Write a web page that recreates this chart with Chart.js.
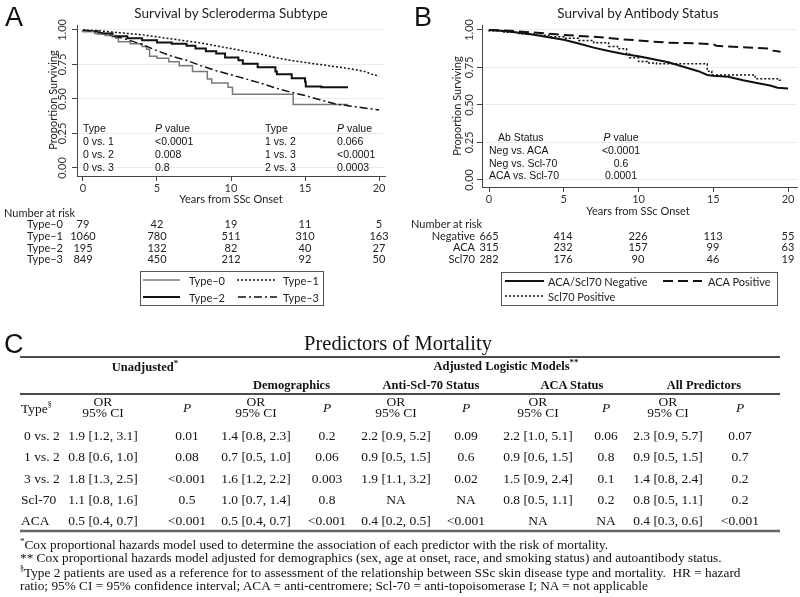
<!DOCTYPE html>
<html>
<head>
<meta charset="utf-8">
<script src="https://cdn.jsdelivr.net/npm/chart.js@4.4.1/dist/chart.umd.min.js"></script>
<style>
  body { margin: 0; background: #fff; }
  #page { position: relative; width: 800px; height: 597px; overflow: hidden; background: #fff; color: #222; font-family: "Liberation Sans", Arial, sans-serif; }
  #page canvas { position: absolute; }
  .t { position: absolute; white-space: nowrap; line-height: 1; }
  .serif { font-family: "Liberation Serif", "Times New Roman", serif; color: #111; }
  .myr { font-family: Lato, "Liberation Sans", sans-serif; }
  svg { position: absolute; left: 0; top: 0; }
</style>
</head>
<body>
<div id="page">
  <canvas id="kmA" width="400" height="200" style="left:0;top:0"></canvas>
  <canvas id="kmB" width="400" height="215" style="left:400px;top:0"></canvas>
  <svg id="lines" width="800" height="597"></svg>
</div>
<script>
// ---- panel A: survival by subtype (years, proportion surviving)
const type0Time = [0, 0.8, 1.5, 2.2, 2.4, 3.2, 4.0, 4.3, 4.5, 5.0, 5.8, 6.5, 7.4, 8.4, 8.7, 9.8, 10.1, 14.2, 17.2, 17.9];
const type0Surv = [1, 0.99, 0.975, 0.96, 0.94, 0.915, 0.90, 0.88, 0.86, 0.81, 0.795, 0.77, 0.74, 0.70, 0.645, 0.615, 0.585, 0.535, 0.46, 0.46];
const type1Time = [0, 1, 2, 3, 4, 5, 6, 7, 8, 9, 10, 11, 12, 13, 14, 15, 16, 17, 18, 19, 19.5, 20];
const type1Surv = [1, 0.995, 0.985, 0.975, 0.965, 0.95, 0.935, 0.92, 0.905, 0.885, 0.865, 0.845, 0.825, 0.80, 0.78, 0.765, 0.75, 0.735, 0.72, 0.70, 0.68, 0.665];
const type2Time = [0, 1, 2, 3, 4, 5, 6, 7, 7.6, 8.3, 9.0, 9.6, 10.5, 10.8, 11.8, 13.0, 13.1, 14.1, 15.0, 15.05, 16.1, 17.9];
const type2Surv = [1, 0.99, 0.975, 0.955, 0.94, 0.925, 0.91, 0.90, 0.885, 0.865, 0.845, 0.83, 0.80, 0.78, 0.755, 0.73, 0.70, 0.68, 0.65, 0.625, 0.59, 0.585];
const type3Time = [0, 1, 2, 3, 4, 5, 6, 7, 8, 9, 10, 11, 12, 13, 14, 15, 16, 17, 18, 19, 20];
const type3Surv = [1, 0.985, 0.96, 0.93, 0.895, 0.85, 0.81, 0.78, 0.74, 0.705, 0.675, 0.645, 0.615, 0.58, 0.55, 0.525, 0.495, 0.465, 0.45, 0.435, 0.42];

// ---- panel B: survival by antibody status
const negTime = [0, 1, 2, 3, 4, 5, 6, 7, 8, 9, 10, 11, 12, 13, 14, 14.6, 15, 16, 17, 18, 18.8, 19.3, 20];
const negSurv = [1, 0.993, 0.982, 0.968, 0.952, 0.935, 0.91, 0.882, 0.86, 0.84, 0.825, 0.805, 0.785, 0.755, 0.725, 0.70, 0.695, 0.688, 0.665, 0.645, 0.63, 0.615, 0.61];
const acaTime = [0, 1, 2, 3, 4, 5, 6, 7, 8, 9, 10, 11, 12, 13, 14, 15, 15.2, 16, 17, 18, 18.8, 19, 19.5];
const acaSurv = [1, 0.997, 0.99, 0.983, 0.975, 0.967, 0.96, 0.955, 0.947, 0.937, 0.93, 0.922, 0.915, 0.913, 0.91, 0.905, 0.895, 0.89, 0.885, 0.88, 0.875, 0.862, 0.855];
const sclTime = [0, 1, 2, 3, 4, 5, 6, 7, 8, 8.6, 9.2, 9.4, 10, 10.6, 11.2, 14.6, 14.9, 17.8, 19.35, 19.6];
const sclSurv = [1, 0.995, 0.985, 0.975, 0.965, 0.955, 0.945, 0.93, 0.915, 0.89, 0.875, 0.84, 0.815, 0.79, 0.78, 0.775, 0.725, 0.70, 0.675, 0.665];

const xTicks = [0, 5, 10, 15, 20];
const yTicks = [0, 0.25, 0.5, 0.75, 1];

// number at risk
const riskA = [['Type\u20130', [79, 42, 19, 11, 5]], ['Type\u20131', [1060, 780, 511, 310, 163]],
               ['Type\u20132', [195, 132, 82, 40, 27]], ['Type\u20133', [849, 450, 212, 92, 50]]];
const riskB = [['Negative', [665, 414, 226, 113, 55]], ['ACA', [315, 232, 157, 99, 63]], ['Scl70', [282, 176, 90, 46, 19]]];

// p values inside the plots
const pvalA = [['0 vs. 1', '<0.0001', '1 vs. 2', '0.066'], ['0 vs. 2', '0.008', '1 vs. 3', '<0.0001'], ['0 vs. 3', '0.8', '2 vs. 3', '0.0003']];
const pvalB = [['Neg vs. ACA', '<0.0001'], ['Neg vs. Scl-70', '0.6'], ['ACA vs. Scl-70', '0.0001']];

// ---- panel C table
const rowLabels = ['0 vs. 2', '1 vs. 2', '3 vs. 2', 'Scl-70', 'ACA'];
const unadjOR = ['1.9 [1.2, 3.1]', '0.8 [0.6, 1.0]', '1.8 [1.3, 2.5]', '1.1 [0.8, 1.6]', '0.5 [0.4, 0.7]'];
const unadjP = ['0.01', '0.08', '<0.001', '0.5', '<0.001'];
const demoOR = ['1.4 [0.8, 2.3]', '0.7 [0.5, 1.0]', '1.6 [1.2, 2.2]', '1.0 [0.7, 1.4]', '0.5 [0.4, 0.7]'];
const demoP = ['0.2', '0.06', '0.003', '0.8', '<0.001'];
const sclOR = ['2.2 [0.9, 5.2]', '0.9 [0.5, 1.5]', '1.9 [1.1, 3.2]', 'NA', '0.4 [0.2, 0.5]'];
const sclP = ['0.09', '0.6', '0.02', 'NA', '<0.001'];
const acaOR = ['2.2 [1.0, 5.1]', '0.9 [0.6, 1.5]', '1.5 [0.9, 2.4]', '0.8 [0.5, 1.1]', 'NA'];
const acaP = ['0.06', '0.8', '0.1', '0.2', 'NA'];
const allOR = ['2.3 [0.9, 5.7]', '0.9 [0.5, 1.5]', '1.4 [0.8, 2.4]', '0.8 [0.5, 1.1]', '0.4 [0.3, 0.6]'];
const allP = ['0.07', '0.7', '0.2', '0.2', '<0.001'];

const page = document.getElementById('page');
const svg = document.getElementById('lines');

// place a text at x, centre y; align l/c/r
function put(html, x, y, align, style, cls) {
  const el = document.createElement('div');
  el.className = 't ' + (cls || '');
  el.innerHTML = html;
  const tx = align === 'c' ? '-50%' : align === 'r' ? '-100%' : '0';
  el.style.cssText = `left:${x}px;top:${y}px;transform:translate(${tx},-50%);` + (style || '');
  page.appendChild(el);
  return el;
}
function rule(x1, y1, x2, y2, color, w, dash) {
  const l = document.createElementNS('http://www.w3.org/2000/svg', 'line');
  l.setAttribute('x1', x1); l.setAttribute('y1', y1); l.setAttribute('x2', x2); l.setAttribute('y2', y2);
  l.setAttribute('stroke', color); l.setAttribute('stroke-width', w);
  if (dash) l.setAttribute('stroke-dasharray', dash);
  svg.appendChild(l);
}
function box(x, y, w, h) {
  const r = document.createElementNS('http://www.w3.org/2000/svg', 'rect');
  r.setAttribute('x', x); r.setAttribute('y', y); r.setAttribute('width', w); r.setAttribute('height', h);
  r.setAttribute('fill', 'none'); r.setAttribute('stroke', '#555'); r.setAttribute('stroke-width', 1);
  svg.appendChild(r);
}

// rotated y tick labels
const yLabels = {
  id: 'yLabels',
  afterDraw(chart, args, opts) {
    const s = chart.scales.y, c = chart.ctx;
    c.save();
    c.fillStyle = '#333';
    c.font = '11px Lato, "Liberation Sans", sans-serif';
    c.textAlign = 'center';
    c.textBaseline = 'middle';
    s.ticks.forEach(t => {
      c.save();
      c.translate(s.right - opts.dx, s.getPixelForValue(t.value));
      c.rotate(-Math.PI / 2);
      c.fillText(t.value.toFixed(2), 0, 0);
      c.restore();
    });
    c.restore();
  }
};

function line(t, s, color, width, dash, stepped) {
  return {
    data: t.map((v, i) => ({ x: v, y: s[i] })),
    borderColor: color, borderWidth: width, borderDash: dash, stepped: stepped,
    pointRadius: 0, fill: false, tension: 0
  };
}

function kmChart(id, datasets, g) {
  return new Chart(document.getElementById(id), {
    type: 'line',
    data: { datasets },
    options: {
      responsive: false,
      animation: false,
      events: [],
      layout: { padding: { left: 0, right: g.right, top: g.top, bottom: 0 } },
      plugins: { legend: { display: false }, tooltip: { enabled: false }, yLabels: { dx: g.dx } },
      scales: {
        x: {
          type: 'linear', min: g.xmin, max: g.xmax,
          afterBuildTicks: s => { s.ticks = xTicks.map(v => ({ value: v })); },
          afterFit: s => { s.height = g.xh; },
          grid: { drawOnChartArea: false, drawTicks: true, tickLength: 5, tickColor: '#444' },
          border: { color: '#444', width: 1 },
          ticks: { color: '#333', padding: 1, maxRotation: 0, font: { size: 11, family: 'Lato, "Liberation Sans", sans-serif' } }
        },
        y: {
          type: 'linear', min: g.ymin, max: g.ymax,
          afterBuildTicks: s => { s.ticks = yTicks.map(v => ({ value: v })); },
          afterFit: s => { s.width = g.yw; },
          grid: { color: '#ebebeb', lineWidth: 1, drawTicks: true, tickLength: 5, tickColor: '#444' },
          border: { color: '#444', width: 1 },
          ticks: { display: false }
        }
      }
    },
    plugins: [yLabels]
  });
}

kmChart('kmA', [
  line(type1Time, type1Surv, '#111', 1.5, [2, 2], false),
  line(type3Time, type3Surv, '#111', 1.5, [8, 3, 2, 3], false),
  line(type0Time, type0Surv, '#7a7a7a', 1.5, [], 'after'),
  line(type2Time, type2Surv, '#111', 2, [], 'after')
], { xmin: -0.4, xmax: 20.4, ymin: -0.058, ymax: 1.036, top: 25, right: 15, xh: 24, yw: 77, dx: 15 });

kmChart('kmB', [
  line(sclTime, sclSurv, '#111', 1.5, [2, 2], 'after'),
  line(acaTime, acaSurv, '#111', 2, [10, 5], false),
  line(negTime, negSurv, '#111', 2, [], false)
], { xmin: -0.47, xmax: 20.6, ymin: -0.047, ymax: 1.033, top: 25, right: 3, xh: 28, yw: 82, dx: 13 });

// ---- panel letters and titles
put('A', 5, 17, 'l', 'font-size:27px;color:#111;');
put('B', 414, 17, 'l', 'font-size:27px;color:#111;');
put('C', 4, 344, 'l', 'font-size:27px;color:#111;');
put('Survival by Scleroderma Subtype', 231, 14, 'c', 'font-size:13.5px;', 'myr');
put('Survival by Antibody Status', 638, 14, 'c', 'font-size:13.5px;', 'myr');

// axis titles
put('Proportion Surviving', 52, 100, 'c', 'font-size:11px;transform:translate(-50%,-50%) rotate(-90deg);', 'myr');
put('Proportion Surviving', 456, 106, 'c', 'font-size:11px;transform:translate(-50%,-50%) rotate(-90deg);', 'myr');
put('Years from SSc Onset', 231, 198, 'c', 'font-size:11px;', 'myr');
put('Years from SSc Onset', 638, 210, 'c', 'font-size:11px;', 'myr');

// p-value blocks
const sA = 'font-size:10.5px;color:#111;';
put('Type', 83, 128, 'l', sA); put('<i>P</i> value', 155, 128, 'l', sA);
put('Type', 265, 128, 'l', sA); put('<i>P</i> value', 337, 128, 'l', sA);
pvalA.forEach((r, i) => {
  const y = 141 + i * 12.8;
  put(r[0], 83, y, 'l', sA); put(r[1].replace('<', '&lt;'), 155, y, 'l', sA);
  put(r[2], 265, y, 'l', sA); put(r[3].replace('<', '&lt;'), 337, y, 'l', sA);
});
put('Ab Status', 498, 137, 'l', sA); put('<i>P</i> value', 621, 137, 'c', sA);
pvalB.forEach((r, i) => {
  const y = 150 + i * 12.5;
  put(r[0], 489, y, 'l', sA); put(r[1].replace('<', '&lt;'), 621, y, 'c', sA);
});

// number at risk
const sR = 'font-size:11px;';
const colA = [83, 157, 231, 305, 379];
const colB = [489, 563, 638, 713, 788];
put('Number at risk', 4, 212, 'l', sR, 'myr');
riskA.forEach((r, i) => {
  const y = 223 + i * 11.8;
  put(r[0], 63, y, 'r', sR, 'myr');
  r[1].forEach((v, j) => put(String(v), colA[j], y, 'c', sR, 'myr'));
});
put('Number at risk', 411, 223, 'l', sR, 'myr');
riskB.forEach((r, i) => {
  const y = 234.5 + i * 11.8;
  put(r[0], 475, y, 'r', sR, 'myr');
  r[1].forEach((v, j) => put(String(v), colB[j], y, 'c', sR, 'myr'));
});

// legends
box(140.5, 271.5, 183, 34);
rule(143, 280, 180, 280, '#7a7a7a', 1.5);
put('Type\u20130', 189, 280, 'l', sR, 'myr');
rule(237, 280, 277, 280, '#111', 1.5, '2 2');
put('Type\u20131', 283, 280, 'l', sR, 'myr');
rule(143, 297, 180, 297, '#111', 2);
put('Type\u20132', 189, 297, 'l', sR, 'myr');
rule(238, 297, 277, 297, '#111', 1.5, '8 3 2 3');
put('Type\u20133', 283, 297, 'l', sR, 'myr');

box(501.5, 272.5, 276, 33);
rule(505, 281, 544, 281, '#111', 2);
put('ACA/Scl70 Negative', 548, 281, 'l', sR, 'myr');
rule(663, 281, 702, 281, '#111', 2, '10 5');
put('ACA Positive', 708, 281, 'l', sR, 'myr');
rule(505, 296, 544, 296, '#111', 1.5, '2 2');
put('Scl70 Positive', 548, 296, 'l', sR, 'myr');

// ---- panel C: table
put('Predictors of Mortality', 398, 343, 'c', 'font-size:20.5px;', 'serif');
rule(20, 357, 780, 357, '#111', 1.3);
const hb = 'font-size:12.5px;font-weight:bold;';
put('Unadjusted<sup style="font-size:9px">*</sup>', 145, 366, 'c', hb, 'serif');
put('Adjusted Logistic Models<sup style="font-size:9px">**</sup>', 506, 365, 'c', hb, 'serif');
const orX = [103, 256, 396, 538, 668];
const pX = [187, 327, 466, 606, 740];
['Demographics', 'Anti-Scl-70 Status', 'ACA Status', 'All Predictors'].forEach((h, i) =>
  put(h, (orX[i + 1] + pX[i + 1]) / 2, 385, 'c', hb, 'serif'));
rule(20, 394, 780, 394, '#111', 1.3);

const sT = 'font-size:13.5px;';
put('Type<sup style="font-size:8px">\u00a7</sup>', 21, 408, 'l', sT, 'serif');
orX.forEach((x, i) => {
  put('OR', x, 402, 'c', sT, 'serif');
  put('95% CI', x, 413, 'c', sT, 'serif');
  put('<i>P</i>', pX[i], 408, 'c', sT, 'serif');
});
const rowY = [436, 457, 479, 500, 521];
const orCols = [unadjOR, demoOR, sclOR, acaOR, allOR];
const pCols = [unadjP, demoP, sclP, acaP, allP];
rowLabels.forEach((lab, r) => {
  put(lab, lab.indexOf('vs.') > 0 ? 24 : 21, rowY[r], 'l', sT, 'serif');
  orCols.forEach((col, c) => put(col[r], orX[c], rowY[r], 'c', sT, 'serif'));
  pCols.forEach((col, c) => put(col[r].replace('<', '&lt;'), pX[c], rowY[r], 'c', sT, 'serif'));
});
rule(20, 531, 780, 531, '#666', 2.5);

const sF = 'font-size:13.3px;';
put('<sup style="font-size:9px">*</sup>Cox proportional hazards model used to determine the association of each predictor with the risk of mortality.', 20, 544, 'l', sF, 'serif');
put('** Cox proportional hazards model adjusted for demographics (sex, age at onset, race, and smoking status) and autoantibody status.', 20, 558, 'l', sF, 'serif');
put('<sup style="font-size:8px">\u00a7</sup>Type 2 patients are used as a reference for to assessment of the relationship between SSc skin disease type and mortality.&nbsp; HR = hazard', 20, 572, 'l', sF, 'serif');
put('ratio; 95% CI = 95% confidence interval; ACA = anti-centromere; Scl-70 = anti-topoisomerase I; NA = not applicable', 20, 586, 'l', sF, 'serif');
</script>
</body>
</html>
